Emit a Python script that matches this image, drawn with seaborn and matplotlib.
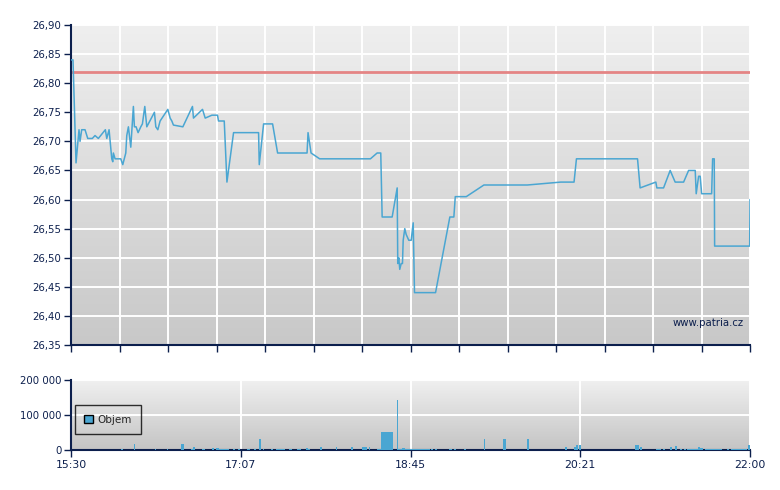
import numpy as np
import pandas as pd
import matplotlib
matplotlib.use("Agg")
import matplotlib.pyplot as plt
from matplotlib.colors import LinearSegmentedColormap
from matplotlib.patches import Patch
from matplotlib.ticker import FixedLocator, FuncFormatter
import seaborn as sns

# intraday price ticks (time, price)
price_times = [
    "15:30:00", "15:31:09", "15:32:53", "15:34:36", "15:35:11", "15:36:09", "15:38:03", "15:39:37",
    "15:42:15", "15:43:48", "15:45:42", "15:49:44", "15:50:32", "15:51:52", "15:53:25", "15:53:59",
    "15:54:20", "15:55:19", "15:58:35", "15:59:44", "16:01:28", "16:02:02", "16:02:58", "16:04:20",
    "16:05:50", "16:06:25", "16:07:23", "16:08:32", "16:10:05", "16:11:01", "16:12:23", "16:13:32",
    "16:17:55", "16:18:43", "16:19:52", "16:21:11", "16:25:37", "16:26:57", "16:27:55", "16:28:50",
    "16:34:15", "16:39:46", "16:40:21", "16:45:32", "16:47:05", "16:50:56", "16:54:09", "16:54:44",
    "16:58:01", "16:59:34", "17:03:22", "17:17:44", "17:18:08", "17:20:37", "17:25:47", "17:28:40",
    "17:45:35", "17:46:09", "17:47:53", "17:52:49", "18:21:59", "18:25:50", "18:27:55", "18:28:43",
    "18:34:28", "18:37:21", "18:37:41", "18:38:16", "18:38:50", "18:39:39", "18:40:23", "18:40:48",
    "18:41:43", "18:42:31", "18:44:01", "18:45:24", "18:46:33", "18:47:18", "18:59:23", "19:07:36",
    "19:09:54", "19:10:43", "19:17:02", "19:27:10", "19:52:07", "20:11:17", "20:18:56", "20:20:19",
    "20:55:24", "20:56:53", "21:05:55", "21:06:30", "21:10:21", "21:14:09", "21:17:01", "21:21:52",
    "21:24:44", "21:28:32", "21:29:06", "21:30:29", "21:31:24", "21:32:13", "21:37:58", "21:38:32",
    "21:39:28", "21:39:41", "21:59:49", "22:00:00",
]
prices = [
    26.84, 26.84, 26.663, 26.72, 26.70, 26.72, 26.72, 26.705,
    26.705, 26.71, 26.705, 26.72, 26.705, 26.72, 26.67, 26.665,
    26.68, 26.67, 26.67, 26.66, 26.68, 26.71, 26.725, 26.69,
    26.76, 26.725, 26.725, 26.715, 26.725, 26.73, 26.76, 26.725,
    26.75, 26.725, 26.72, 26.735, 26.755, 26.74, 26.735, 26.728,
    26.725, 26.76, 26.74, 26.755, 26.74, 26.745, 26.745, 26.735,
    26.735, 26.63, 26.715, 26.715, 26.66, 26.73, 26.73, 26.68,
    26.68, 26.715, 26.68, 26.67, 26.67, 26.68, 26.68, 26.57,
    26.57, 26.62, 26.49, 26.50, 26.48, 26.49, 26.49, 26.53,
    26.55, 26.54, 26.53, 26.53, 26.56, 26.44, 26.44, 26.57,
    26.57, 26.605, 26.605, 26.625, 26.625, 26.63, 26.63, 26.67,
    26.67, 26.62, 26.63, 26.62, 26.62, 26.65, 26.63, 26.63,
    26.65, 26.65, 26.61, 26.64, 26.64, 26.61, 26.61, 26.67,
    26.67, 26.52, 26.52, 26.60,
]
previous_close = 26.82

# traded volume per minute
volume_times = [
    "15:59", "16:06", "16:18", "16:25", "16:33", "16:34", "16:39", "16:40", "16:45", "16:46",
    "16:51", "16:53", "16:54", "16:55", "16:56", "16:57", "16:58", "16:59", "17:00", "17:03",
    "17:06", "17:11", "17:12", "17:15", "17:18", "17:20", "17:25", "17:28", "17:29", "17:30",
    "17:31", "17:32", "17:35", "17:36", "17:40", "17:41", "17:45", "17:46", "17:53", "18:02",
    "18:11", "18:17", "18:18", "18:19", "18:21", "18:26", "18:27", "18:28", "18:29", "18:30",
    "18:31", "18:32", "18:33", "18:34", "18:37", "18:38", "18:39", "18:40", "18:41", "18:42",
    "18:43", "18:44", "18:45", "18:46", "18:47", "18:48", "18:49", "18:50", "18:51", "18:52",
    "18:53", "18:54", "18:55", "18:57", "18:59", "19:07", "19:08", "19:10", "19:16", "19:27",
    "19:38", "19:39", "19:52", "20:14", "20:19", "20:20", "20:22", "20:54", "20:55", "20:57",
    "21:06", "21:07", "21:08", "21:10", "21:14", "21:17", "21:20", "21:22", "21:24", "21:25",
    "21:26", "21:27", "21:28", "21:29", "21:30", "21:31", "21:32", "21:34", "21:35", "21:36",
    "21:37", "21:38", "21:39", "21:40", "21:41", "21:42", "21:43", "21:47", "21:49", "21:50",
    "21:51", "21:52", "21:53", "21:54", "21:55", "21:56", "21:57", "21:59",
]
volumes = [
    3000, 17000, 3000, 3000, 17000, 17000, 3000, 8500, 3000, 3000,
    6000, 6000, 6000, 3000, 3000, 3000, 3000, 3000, 3000, 3000,
    3000, 3000, 3000, 3000, 32000, 3000, 3000, 3000, 3000, 3000,
    3000, 3000, 3000, 3000, 3000, 3000, 6000, 3000, 8500, 8500,
    8500, 8500, 8500, 8500, 8500, 3000, 3000, 52000, 52000, 52000,
    52000, 52000, 52000, 52000, 144000, 3000, 3000, 6000, 6000, 3000,
    3000, 3000, 3000, 3000, 3000, 3000, 3000, 3000, 3000, 3000,
    3000, 3000, 3000, 3000, 3000, 3000, 3000, 3000, 3000, 32000,
    32000, 32000, 32000, 8500, 8500, 14000, 15000, 15000, 15000, 8500,
    3000, 3000, 3000, 3000, 8500, 12000, 3000, 3000, 3000, 3000,
    3000, 3000, 3000, 3000, 8500, 6000, 6000, 3000, 3000, 3000,
    3000, 3000, 3000, 3000, 3000, 3000, 3000, 3000, 3000, 3000,
    3000, 3000, 3000, 3000, 3000, 3000, 3000, 14000,
]

session_ticks = ["15:30", "17:07", "18:45", "20:21", "22:00"]

NAVY = "#0c1f4d"
LINE = "#4aa6d2"


def minutes_since_open(times):
    t = pd.to_datetime(pd.Series(times), format="mixed")
    return ((t - t.dt.normalize()) - pd.Timedelta(hours=15, minutes=30)).dt.total_seconds() / 60


price_df = pd.DataFrame({"minute": minutes_since_open(price_times), "price": prices})
volume_df = pd.DataFrame({"minute": minutes_since_open(volume_times) + 0.5, "volume": volumes})
session_len = 390

sns.set_style("white")
plt.rcParams["font.family"] = ["DejaVu Sans"]
plt.rcParams["font.size"] = 7

fig = plt.figure(figsize=(7.8, 4.9), dpi=100)
ax_p = fig.add_axes([71 / 780, 1 - 345 / 490, 679 / 780, 320 / 490])
ax_v = fig.add_axes([71 / 780, 1 - 450 / 490, 679 / 780, 70 / 490])


def shade(ax, top, bottom):
    cmap = LinearSegmentedColormap.from_list("bg", [bottom, top])
    ax.imshow(np.linspace(0, 1, 256).reshape(-1, 1), cmap=cmap, origin="lower",
              extent=(0, 1, 0, 1), transform=ax.transAxes, aspect="auto", zorder=-2)


def style(ax):
    ax.set_axisbelow(True)
    ax.grid(True, color="white", lw=1.4)
    for side in ("top", "right"):
        ax.spines[side].set_visible(False)
    for side in ("left", "bottom"):
        ax.spines[side].set_color(NAVY)
        ax.spines[side].set_linewidth(1.5)
    ax.tick_params(direction="out", length=5, width=1, color=NAVY, labelcolor=NAVY,
                   labelsize=7.3, pad=2, left=True, bottom=True)
    ax.set_xlabel("")
    ax.set_ylabel("")


# price panel
shade(ax_p, "#efefef", "#c8c8c8")
ax_p.axhline(previous_close, color="#e48484", lw=2, zorder=2)
sns.lineplot(data=price_df, x="minute", y="price", ax=ax_p, color=LINE, lw=1.1,
             estimator=None, sort=False, zorder=3)
ax_p.set_xlim(0, session_len)
ax_p.set_ylim(26.35, 26.90)
ax_p.yaxis.set_major_locator(FixedLocator(np.arange(26.35, 26.901, 0.05)))
ax_p.yaxis.set_major_formatter(FuncFormatter(lambda v, _: f"{v:.2f}".replace(".", ",")))
ax_p.xaxis.set_major_locator(FixedLocator(np.linspace(0, session_len, 15)))
ax_p.set_xticklabels([])
style(ax_p)
ax_p.text(0.99, 0.07, "www.patria.cz", transform=ax_p.transAxes, ha="right", va="center",
          color=NAVY, fontsize=7.3)

# volume panel
shade(ax_v, "#f0f0f0", "#c4c4c4")
sns.barplot(data=volume_df, x="minute", y="volume", native_scale=True, ax=ax_v, color=LINE,
            saturation=1, errorbar=None, width=1.0, edgecolor=LINE, linewidth=0,
            antialiased=False, zorder=3)
ax_v.set_xlim(0, session_len)
ax_v.set_ylim(0, 200000)
ax_v.yaxis.set_major_locator(FixedLocator([0, 100000, 200000]))
ax_v.yaxis.set_major_formatter(FuncFormatter(lambda v, _: f"{int(v):,}".replace(",", " ")))
ax_v.xaxis.set_major_locator(FixedLocator(np.linspace(0, session_len, len(session_ticks))))
ax_v.set_xticklabels(session_ticks)
style(ax_v)
ax_v.tick_params(axis="x", labelsize=7.8)
leg = ax_v.legend(handles=[Patch(facecolor=LINE, edgecolor="black", lw=1, label="Objem")],
                  loc="upper left", bbox_to_anchor=(0.006, 0.64), frameon=True, fancybox=False,
                  handlelength=0.8, handleheight=0.8, handletextpad=0.4, borderpad=0.9,
                  fontsize=7.5, borderaxespad=0)
leg.get_frame().set_edgecolor("black")
leg.get_frame().set_facecolor("none")
leg.get_frame().set_linewidth(1)

fig.savefig("out.png", dpi=100)
